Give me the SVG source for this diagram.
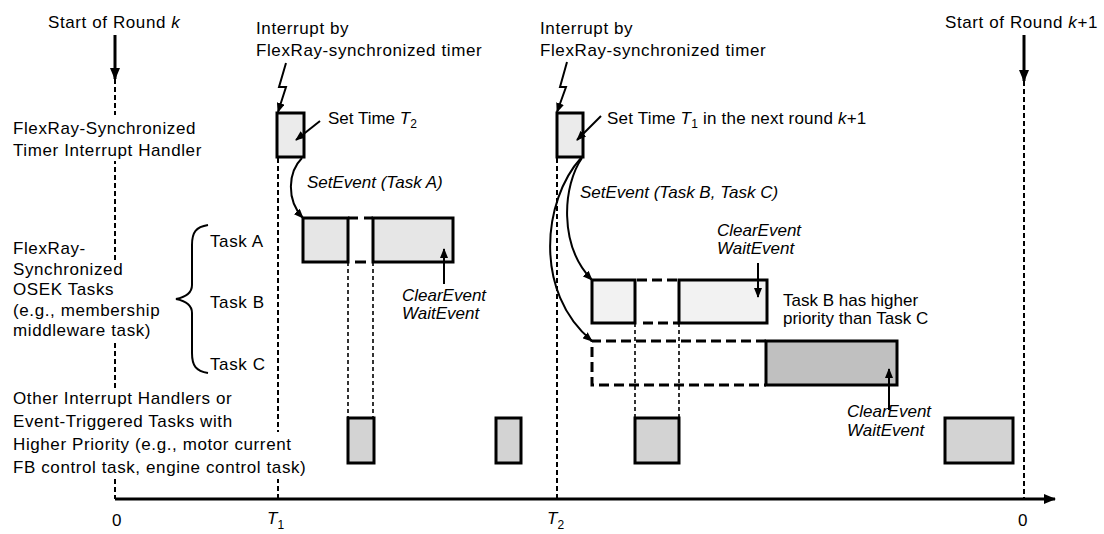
<svg xmlns="http://www.w3.org/2000/svg" width="1104" height="534" viewBox="0 0 1104 534">
<style>
text{font-family:"Liberation Sans",Arial,Helvetica,sans-serif;font-size:17px;fill:#000}
.lbl{letter-spacing:0.6px}
.it{font-style:italic}
.sub{font-size:12px}
.box{stroke:#000;stroke-width:3}
.h{fill:#ebebeb}
.ta{fill:#e6e6e6}
.tb{fill:#f2f2f2}
.tc{fill:#c0c0c0}
.ot{fill:#d3d3d3}
.mask{fill:#fff}
.vd{fill:none;stroke:#000;stroke-width:2;stroke-dasharray:5,3}
.vd2{fill:none;stroke:#000;stroke-width:1.6;stroke-dasharray:4,3}
.gap{fill:none;stroke:#000;stroke-width:3;stroke-dasharray:10,5}
.ar{fill:none;stroke:#000;stroke-width:2}
</style>
<defs>
<marker id="ah" markerWidth="10" markerHeight="8" refX="9" refY="4" orient="auto" markerUnits="userSpaceOnUse"><path d="M0,0 L10,4 L0,8 z" fill="#000"/></marker>
<marker id="ahL" markerWidth="12" markerHeight="10" refX="11" refY="5" orient="auto" markerUnits="userSpaceOnUse"><path d="M0,0 L12,5 L0,10 z" fill="#000"/></marker>
</defs>
<rect width="1104" height="534" fill="#fff"/>

<g id="guides">
<line class="vd" x1="115" y1="79" x2="115" y2="499"/>
<line class="vd" x1="278" y1="158" x2="278" y2="499"/>
<line class="vd" x1="557" y1="158" x2="557" y2="499"/>
<line class="vd" x1="1024" y1="81" x2="1024" y2="499"/>
<line class="vd2" x1="348" y1="262" x2="348" y2="418"/>
<line class="vd2" x1="373" y1="262" x2="373" y2="418"/>
<line class="vd2" x1="635" y1="323" x2="635" y2="418"/>
<line class="vd2" x1="679" y1="323" x2="679" y2="418"/>
</g>

<g id="label-backgrounds">
<rect class="mask" x="8" y="115" width="200" height="46"/>
<rect class="mask" x="8" y="260" width="155" height="82"/>
<rect class="mask" x="8" y="389" width="235" height="43"/>
<rect class="mask" x="8" y="432" width="306" height="47"/>
</g>

<g id="labels">
<text class="lbl" x="48" y="28">Start of Round <tspan class="it">k</tspan></text>
<text class="lbl" x="945" y="28">Start of Round <tspan class="it">k</tspan>+1</text>
<text class="lbl" x="256" y="34">Interrupt by</text>
<text class="lbl" x="256" y="56">FlexRay-synchronized timer</text>
<text class="lbl" x="540" y="34">Interrupt by</text>
<text class="lbl" x="540" y="56">FlexRay-synchronized timer</text>
<text class="lbl" x="13" y="134">FlexRay-Synchronized</text>
<text class="lbl" x="13" y="156">Timer Interrupt Handler</text>
<text class="lbl" x="13" y="254">FlexRay-</text>
<text class="lbl" x="13" y="275">Synchronized</text>
<text class="lbl" x="13" y="295">OSEK Tasks</text>
<text class="lbl" x="13" y="316">(e.g., membership</text>
<text class="lbl" x="13" y="336">middleware task)</text>
<text class="lbl" x="210" y="247">Task A</text>
<text class="lbl" x="210" y="308">Task B</text>
<text class="lbl" x="210" y="370">Task C</text>
<text class="lbl" x="13" y="404">Other Interrupt Handlers or</text>
<text class="lbl" x="13" y="427">Event-Triggered Tasks with</text>
<text class="lbl" x="13" y="450">Higher Priority (e.g., motor current</text>
<text class="lbl" x="13" y="473">FB control task, engine control task)</text>
<text x="328" y="124">Set Time <tspan class="it">T</tspan><tspan class="sub" dy="4">2</tspan></text>
<text x="607" y="124" letter-spacing="0.2">Set Time <tspan class="it">T</tspan><tspan class="sub" dy="4">1</tspan><tspan dy="-4">  in the next round </tspan><tspan class="it">k</tspan>+1</text>
<text class="it" x="307" y="188">SetEvent (Task A)</text>
<text class="it" x="580" y="198">SetEvent (Task B, Task C)</text>
<text class="it" x="402" y="301">ClearEvent</text>
<text class="it" x="402" y="319">WaitEvent</text>
<text class="it" x="717" y="236">ClearEvent</text>
<text class="it" x="717" y="254">WaitEvent</text>
<text class="it" x="847" y="417">ClearEvent</text>
<text class="it" x="847" y="436">WaitEvent</text>
<text x="783" y="306">Task B has higher</text>
<text x="783" y="324">priority than Task C</text>
<text x="112" y="526">0</text>
<text x="1018" y="526">0</text>
<text x="267" y="524"><tspan class="it">T</tspan><tspan class="sub" dy="5">1</tspan></text>
<text x="547" y="524"><tspan class="it">T</tspan><tspan class="sub" dy="5">2</tspan></text>
</g>

<g id="brace">
<path d="M208,225 C196,227 192,232 192,245 L192,285 C192,293 186,297 176,299 C186,301 192,305 192,313 L192,353 C192,366 196,371 208,373" fill="none" stroke="#000" stroke-width="2"/>
</g>

<g id="handler1"><rect class="box h" x="277" y="113" width="27" height="44"/></g>
<g id="handler2"><rect class="box h" x="557" y="113" width="26" height="44"/></g>

<g id="taskA">
<rect class="box ta" x="303" y="218" width="45" height="44"/>
<rect class="box ta" x="373" y="218" width="80" height="44"/>
<line x1="348" y1="218" x2="358" y2="218" stroke="#000" stroke-width="3"/>
<line x1="364" y1="218" x2="373" y2="218" stroke="#000" stroke-width="3"/>
<line x1="355" y1="262" x2="366" y2="262" stroke="#000" stroke-width="3"/>
</g>

<g id="taskB">
<rect class="box tb" x="592" y="280" width="43" height="43"/>
<rect class="box tb" x="679" y="280" width="88" height="43"/>
<line class="gap" x1="637" y1="280" x2="679" y2="280"/>
<line class="gap" x1="643" y1="323" x2="679" y2="323"/>
</g>

<g id="taskC">
<path class="gap" d="M766,341 H592 V385 H766"/>
<rect class="box tc" x="766" y="341" width="131" height="44"/>
</g>

<g id="other1"><rect class="box ot" x="348" y="418" width="26" height="45"/></g>
<g id="other2"><rect class="box ot" x="496" y="418" width="25" height="45"/></g>
<g id="other3"><rect class="box ot" x="635" y="418" width="44" height="45"/></g>
<g id="other4"><rect class="box ot" x="945" y="418" width="68" height="45"/></g>

<g id="connectors">
<line x1="115" y1="35" x2="115" y2="79" stroke="#000" stroke-width="3" marker-end="url(#ahL)"/>
<line x1="1024" y1="35" x2="1024" y2="81" stroke="#000" stroke-width="3" marker-end="url(#ahL)"/>
<line x1="115" y1="499" x2="1055" y2="499" stroke="#000" stroke-width="3" marker-end="url(#ahL)"/>
<polyline class="ar" points="286,63 279,87 286,87 278,112" marker-end="url(#ah)"/>
<polyline class="ar" points="567,62 560,87 566,87 557,112" marker-end="url(#ah)"/>
<line class="ar" x1="320" y1="121" x2="296" y2="140" marker-end="url(#ah)"/>
<line class="ar" x1="601" y1="116" x2="577" y2="140" marker-end="url(#ah)"/>
<path class="ar" d="M302,158 C288,172 286,200 303,218" marker-end="url(#ah)"/>
<path class="ar" d="M582,158 C563,185 558,245 592,280" marker-end="url(#ah)"/>
<path class="ar" d="M581,158 C543,200 533,292 592,341" marker-end="url(#ah)"/>
<line class="ar" x1="444" y1="284" x2="444" y2="249" marker-end="url(#ah)"/>
<line class="ar" x1="758" y1="263" x2="758" y2="297" marker-end="url(#ah)"/>
<line class="ar" x1="889" y1="410" x2="889" y2="369" marker-end="url(#ah)"/>
</g>
</svg>
